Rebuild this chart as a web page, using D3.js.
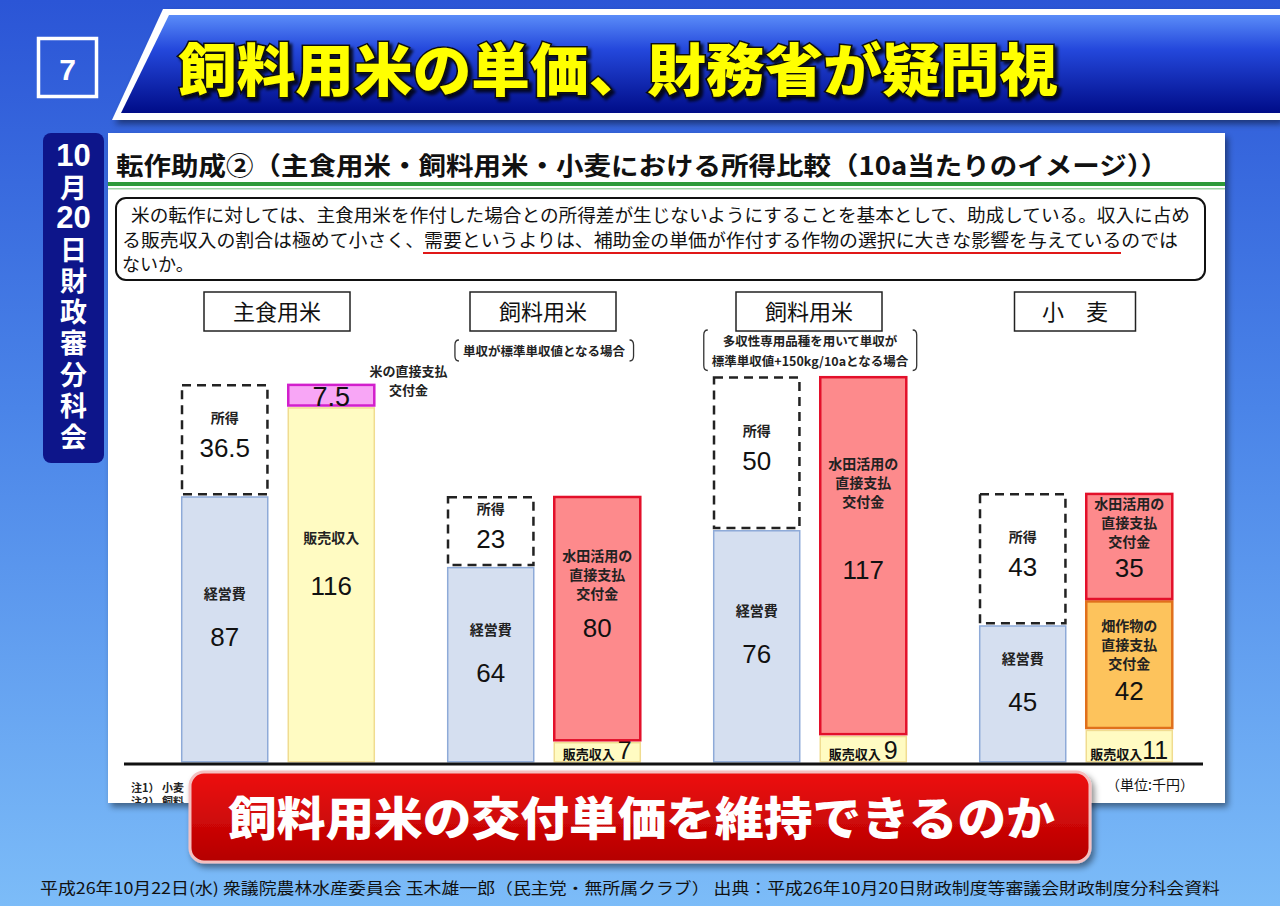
<!DOCTYPE html>
<html><head><meta charset="utf-8">
<script src="https://cdn.jsdelivr.net/npm/d3@7"></script>
<style>body{margin:0;overflow:hidden;background:#fff} svg{display:block}</style>
</head><body>
<svg id="c" width="1280" height="906"></svg>
<script>
// ---- data ----
const groups = ["主食用米", "飼料用米", "飼料用米", "小　麦"];
const conditions = [[], ["単収が標準単収値となる場合"], ["多収性専用品種を用いて単収が", "標準単収値+150kg/10aとなる場合"], []];
const cost = [87, 64, 76, 45];          // 経営費
const income = [36.5, 23, 50, 43];      // 所得
const salesRev = [116, 7, 9, 11];       // 販売収入
const fieldPay = [0, 0, 0, 42];         // 畑作物の直接支払交付金
const paddyPay = [0, 80, 117, 35];      // 水田活用の直接支払交付金
const ricePay = [7.5, 0, 0, 0];         // 米の直接支払交付金
const segNames = {cost: "経営費", income: "所得", sales: "販売収入", field: ["畑作物の", "直接支払", "交付金"], paddy: ["水田活用の", "直接支払", "交付金"], rice: ["米の直接支払", "交付金"]};
const slideTitle = "飼料用米の単価、財務省が疑問視";
const panelTitle = "転作助成②（主食用米・飼料用米・小麦における所得比較（10a当たりのイメージ））";
const boxLines = ["米の転作に対しては、主食用米を作付した場合との所得差が生じないようにすることを基本として、助成している。収入に占め",
  "る販売収入の割合は極めて小さく、需要というよりは、補助金の単価が作付する作物の選択に大きな影響を与えているのでは",
  "ないか。"];
const sideParts = ["10", "月", "20", "日財政審分科会"];
const banner = "飼料用米の交付単価を維持できるのか";
const footer = "平成26年10月22日(水) 衆議院農林水産委員会 玉木雄一郎（民主党・無所属クラブ） 出典：平成26年10月20日財政制度等審議会財政制度分科会資料";
const unitLabel = "（単位:千円）";
const notes = ["注1） 小麦", "注2） 飼料"];

const JP = "'Noto Sans CJK JP','Noto Sans',sans-serif";
const NUM = "'Liberation Sans',Arial,sans-serif";

const svg = d3.select("#c");
const defs = svg.append("defs");
function grad(id, stops, x2 = 0, y2 = 1) {
  const g = defs.append("linearGradient").attr("id", id).attr("x1", 0).attr("y1", 0).attr("x2", x2).attr("y2", y2);
  stops.forEach(s => g.append("stop").attr("offset", s[0]).attr("stop-color", s[1]));
}
grad("bg", [[0, "#2b55d6"], [0.45, "#4a84e8"], [1, "#7cbcf8"]]);
grad("ban", [[0, "#5a8cf8"], [0.35, "#2448dc"], [1, "#000c88"]]);
grad("red", [[0, "#ee1010"], [1, "#b40000"]]);
const f = defs.append("filter").attr("id", "sh").attr("x", "-5%").attr("y", "-5%").attr("width", "115%").attr("height", "120%");
f.append("feDropShadow").attr("dx", 3).attr("dy", 4).attr("stdDeviation", 3).attr("flood-color", "#000").attr("flood-opacity", 0.45);
const f2 = defs.append("filter").attr("id", "tsh").attr("x", "-5%").attr("y", "-20%").attr("width", "115%").attr("height", "150%");
f2.append("feDropShadow").attr("dx", 3).attr("dy", 3).attr("stdDeviation", 1.5).attr("flood-color", "#000").attr("flood-opacity", 0.8);
defs.append("clipPath").attr("id", "panelClip").append("rect").attr("x", 108).attr("y", 133).attr("width", 1117).attr("height", 670);

// background
svg.append("rect").attr("width", 1280).attr("height", 906).attr("fill", "url(#bg)");

// header banner
svg.append("polygon").attr("points", "163,9 1280,9 1280,120 112,120").attr("fill", "#ffffff").attr("filter", "url(#sh)");
svg.append("polygon").attr("points", "169,15 1280,15 1280,113 121,113").attr("fill", "url(#ban)");
svg.append("rect").attr("x", 38.5).attr("y", 38.5).attr("width", 58).attr("height", 58).attr("fill", "none").attr("stroke", "#fff").attr("stroke-width", 3.5);
svg.append("text").attr("x", 67.5).attr("y", 80).attr("text-anchor", "middle").attr("font-family", NUM).attr("font-weight", "bold").attr("font-size", 30).attr("fill", "#fff").text("7");
svg.append("text").attr("x", 178).attr("y", 91).attr("font-family", JP).attr("font-weight", 900).attr("font-size", 57)
  .attr("textLength", 880).attr("lengthAdjust", "spacingAndGlyphs")
  .attr("fill", "#ffff00").attr("stroke", "#111").attr("stroke-width", 3).attr("paint-order", "stroke").attr("filter", "url(#tsh)").text(slideTitle);

// side label: numbers horizontal, kanji set vertically
svg.append("rect").attr("x", 43).attr("y", 133).attr("width", 61).attr("height", 330).attr("rx", 8).attr("fill", "#0d158a");
const sideY = [166, 174, 228, 236];
sideParts.forEach((t, k) => {
  const isNum = /\d/.test(t);
  const tx = svg.append("text").attr("x", 73.5).attr("y", sideY[k]).attr("font-weight", "bold").attr("fill", "#fff").text(t);
  if (isNum) tx.attr("text-anchor", "middle").attr("font-family", NUM).attr("font-size", 31);
  else tx.attr("writing-mode", "vertical-rl").attr("font-family", JP).attr("font-size", 27).attr("letter-spacing", 4.2);
});

// panel
svg.append("rect").attr("x", 108).attr("y", 133).attr("width", 1117).attr("height", 670).attr("fill", "#fff").attr("filter", "url(#sh)");
const P = svg.append("g").attr("clip-path", "url(#panelClip)");
P.append("text").attr("x", 116).attr("y", 175).attr("font-family", JP).attr("font-weight", "bold").attr("font-size", 25)
  .attr("textLength", 1052).attr("lengthAdjust", "spacingAndGlyphs").attr("fill", "#111").text(panelTitle);
P.append("rect").attr("x", 108).attr("y", 182).attr("width", 1117).attr("height", 4).attr("fill", "#2e9a3a");
P.append("rect").attr("x", 108).attr("y", 188).attr("width", 1117).attr("height", 1.5).attr("fill", "#9fd4a4");
P.append("rect").attr("x", 116).attr("y", 198).attr("width", 1089).attr("height", 82).attr("rx", 10).attr("fill", "#fff").attr("stroke", "#111").attr("stroke-width", 2);
const lineX = [131, 122, 122], lineLen = [1059, 1056, null];
boxLines.forEach((t, k) => {
  const tx = P.append("text").attr("x", lineX[k]).attr("y", 222 + k * 24.5).attr("font-family", JP).attr("font-size", 18).attr("fill", "#111").text(t);
  if (lineLen[k]) tx.attr("textLength", lineLen[k]).attr("lengthAdjust", "spacingAndGlyphs");
});
P.append("line").attr("x1", 423).attr("x2", 1121).attr("y1", 253).attr("y2", 253).attr("stroke", "#e01818").attr("stroke-width", 2);

// ---- chart ----
const rows = groups.map((g, i) => ({i, cost: cost[i], income: income[i], sales: salesRev[i], field: fieldPay[i], paddy: paddyPay[i], rice: ricePay[i]}));
const x0 = d3.scaleBand().domain(d3.range(groups.length)).range([145, 1209]).paddingInner(0.267).paddingOuter(0.1335);
const x1 = d3.scaleBand().domain(["L", "R"]).range([0, x0.bandwidth()]).paddingInner(0.17);
const y = d3.scaleLinear().domain([0, 126]).range([763, 376]);
const leftStack = d3.stack().keys(["cost", "income"])(rows);
const rightStack = d3.stack().keys(["sales", "field", "paddy", "rice"])(rows);
const styles = {
  cost: {fill: "#d5dff0", stroke: "#8eaad8", w: 1.5},
  income: {fill: "#fff", stroke: "#222", w: 2.5, dash: "9,6"},
  sales: {fill: "#fffbc2", stroke: "#f0dc90", w: 1.5},
  field: {fill: "#fdc35c", stroke: "#e0701c", w: 2.5},
  paddy: {fill: "#fd8a8c", stroke: "#e3102a", w: 2.5},
  rice: {fill: "#f8a6f6", stroke: "#d21fcc", w: 2.5}
};
const C = P.append("g");
function drawStack(stack, side) {
  stack.forEach(layer => {
    const key = layer.key, st = styles[key];
    layer.forEach((d, i) => {
      if (d[1] - d[0] <= 0) return;
      const bx = x0(i) + x1(side), bw = x1.bandwidth();
      const top = y(d[1]), bot = y(d[0]);
      const inset = key === "income" ? 1.5 : 1.2;
      C.append("rect").attr("x", bx + inset).attr("y", top + inset).attr("width", bw - 2 * inset).attr("height", bot - top - 2 * inset)
        .attr("fill", st.fill).attr("stroke", st.stroke).attr("stroke-width", st.w).attr("stroke-dasharray", st.dash || null);
      const cx = bx + bw / 2, mid = (top + bot) / 2, v = d[1] - d[0], h = bot - top;
      const lab = (t, yy, fs = 14) => C.append("text").attr("x", cx).attr("y", yy).attr("text-anchor", "middle").attr("font-family", JP).attr("font-weight", "bold").attr("font-size", fs).attr("fill", "#222").text(t);
      const num = (yy, fs = 26) => C.append("text").attr("x", cx).attr("y", yy).attr("text-anchor", "middle").attr("font-family", NUM).attr("font-size", fs).attr("fill", "#111").text(v);
      if (key === "cost") { lab(segNames.cost, mid - 30); num(mid + 17); }
      else if (key === "income") { lab(segNames.income, mid - 17); num(mid + 17); }
      else if (key === "rice") {
        num(mid + 11, 27);
        segNames.rice.forEach((t, k) => C.append("text").attr("x", bx + bw + 33).attr("y", top - 8 + k * 19).attr("text-anchor", "middle").attr("font-family", JP).attr("font-weight", "bold").attr("font-size", 13).attr("fill", "#222").text(t));
      } else if (key === "sales") {
        if (h < 50) {
          const t = C.append("text").attr("x", cx).attr("y", bot - 4).attr("text-anchor", "middle").attr("fill", "#111");
          t.append("tspan").attr("font-family", JP).attr("font-weight", "bold").attr("font-size", 13).text(segNames.sales + (v < 10 ? " " : ""));
          t.append("tspan").attr("font-family", NUM).attr("font-size", 25).text(v);
        } else { lab(segNames.sales, mid - 42); num(mid + 10); }
      } else {
        // multi-line subsidy label: first line & number placed by segment height
        const first = top + (h > 200 ? 0.245 * h : Math.max(11, (h - 100) * 0.9));
        const numC = top + (h > 200 ? 0.54 * h : 0.70 * h);
        segNames[key].forEach((t, k) => lab(t, first + 5 + k * 19, 14));
        num(numC + 9);
      }
    });
  });
}
drawStack(leftStack, "L");
drawStack(rightStack, "R");

// baseline
C.append("line").attr("x1", 124).attr("x2", 1203).attr("y1", y(0) + 1).attr("y2", y(0) + 1).attr("stroke", "#111").attr("stroke-width", 3);

// category boxes & conditions
groups.forEach((g, i) => {
  const cx = x0(i) + x0.bandwidth() / 2;
  const bw = g.length > 3 ? 146 : 121;
  C.append("rect").attr("x", cx - bw / 2 - 1).attr("y", 292).attr("width", bw).attr("height", 39).attr("fill", "#fff").attr("stroke", "#222").attr("stroke-width", 1.5);
  C.append("text").attr("x", cx - 1).attr("y", 320).attr("text-anchor", "middle").attr("font-family", JP).attr("font-size", 22).attr("fill", "#111").text(g);
  const lines = conditions[i];
  if (!lines.length) return;
  const cg = C.append("g");
  const base = lines.length === 1 ? 356 : 346;
  lines.forEach((t, k) => cg.append("text").attr("x", cx).attr("y", base + k * 19.5).attr("text-anchor", "middle").attr("font-family", JP).attr("font-weight", "bold").attr("font-size", 12.5).attr("fill", "#222").text(t));
  const bb = cg.node().getBBox();
  const top = bb.y - 1, bot = bb.y + bb.height + 1, lx = bb.x - 8, rx = bb.x + bb.width + 8;
  C.append("path").attr("d", `M${lx + 4},${top} Q${lx},${top} ${lx},${top + 5} L${lx},${bot - 5} Q${lx},${bot} ${lx + 4},${bot}`).attr("fill", "none").attr("stroke", "#333").attr("stroke-width", 1.3);
  C.append("path").attr("d", `M${rx - 4},${top} Q${rx},${top} ${rx},${top + 5} L${rx},${bot - 5} Q${rx},${bot} ${rx - 4},${bot}`).attr("fill", "none").attr("stroke", "#333").attr("stroke-width", 1.3);
});

// unit & notes
C.append("text").attr("x", 1150).attr("y", 790).attr("text-anchor", "middle").attr("font-family", JP).attr("font-size", 14).attr("fill", "#111").text(unitLabel);
notes.forEach((t, k) => C.append("text").attr("x", 131).attr("y", 792 + k * 14).attr("font-family", JP).attr("font-weight", "bold").attr("font-size", 11).attr("fill", "#222").text(t));

// red banner
svg.append("rect").attr("x", 190).attr("y", 772).attr("width", 900).attr("height", 90).attr("rx", 14).attr("fill", "url(#red)").attr("stroke", "#f4c0c0").attr("stroke-width", 3).attr("filter", "url(#sh)");
svg.append("text").attr("x", 228).attr("y", 835).attr("font-family", JP).attr("font-weight", 900).attr("font-size", 46)
  .attr("textLength", 827).attr("lengthAdjust", "spacingAndGlyphs").attr("fill", "#fff").text(banner);

// footer
svg.append("text").attr("x", 40).attr("y", 894).attr("font-family", JP).attr("font-size", 15.5).attr("textLength", 1180).attr("lengthAdjust", "spacingAndGlyphs").attr("fill", "#111").text(footer);
</script>
</body></html>
